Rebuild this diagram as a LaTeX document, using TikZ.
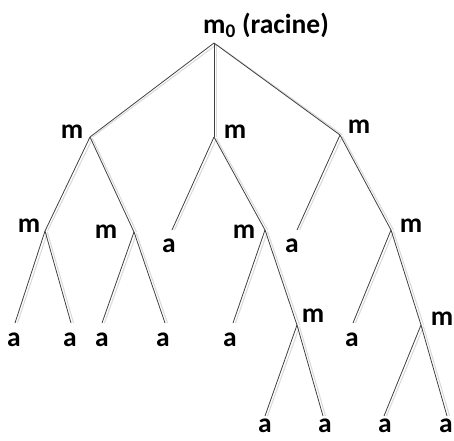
\documentclass[tikz,border=0pt]{standalone}
\usepackage{fontspec}
\setmainfont{Carlito}
\begin{document}
\begin{tikzpicture}[x=1pt,y=-1pt,
  lbl/.style={anchor=base,inner sep=0pt,font=\fontsize{27.5}{30}\selectfont\bfseries},
  edge/.style={draw=black!75,line width=0.8pt},
  shade/.style={draw=black!15,line width=1pt}]
\useasboundingbox (0,0) rectangle (454,440);
% junctions and leaf ends
\coordinate (R) at (214,43);
\coordinate (A) at (90,137);
\coordinate (B) at (214,137);
\coordinate (C) at (340,135);
\coordinate (AA) at (45,231);
\coordinate (AB) at (134,232);
\coordinate (Ba) at (172,230);
\coordinate (BB) at (265,230);
\coordinate (Ca) at (297,230);
\coordinate (CC) at (391,230);
\coordinate (AAa) at (15,323);
\coordinate (AAb) at (71,323);
\coordinate (ABa) at (102,323);
\coordinate (ABb) at (165,323);
\coordinate (BBa) at (233,323);
\coordinate (BBB) at (297,325);
\coordinate (CCa) at (353,323);
\coordinate (CCC) at (421,325);
\coordinate (BBBa) at (265,416);
\coordinate (BBBb) at (323,416);
\coordinate (CCCa) at (384,416);
\coordinate (CCCb) at (447,416);
% labels
\node[lbl] (lR) at (266,33) {m\textsubscript{0} (racine)};
\node[lbl] (lA) at (72,138) {m};
\node[lbl] (lB) at (235,138) {m};
\node[lbl] (lC) at (359,133) {m};
\node[lbl] (lAA) at (29,232) {m};
\node[lbl] (lAB) at (106,238) {m};
\node[lbl] (lBa) at (169,252) {a};
\node[lbl] (lBB) at (244,238) {m};
\node[lbl] (lCa) at (292,252) {a};
\node[lbl] (lCC) at (411,232) {m};
\node[lbl] (lAAa) at (14,346) {a};
\node[lbl] (lAAb) at (70,346) {a};
\node[lbl] (lABa) at (102,346) {a};
\node[lbl] (lABb) at (163,346) {a};
\node[lbl] (lBBa) at (230,346) {a};
\node[lbl] (lBBB) at (313,322) {m};
\node[lbl] (lCCa) at (352,346) {a};
\node[lbl] (lCCC) at (442,325) {m};
\node[lbl] (lBBBa) at (265,432) {a};
\node[lbl] (lBBBb) at (325,432) {a};
\node[lbl] (lCCCa) at (385,432) {a};
\node[lbl] (lCCCb) at (446,432) {a};
% edges: shadow then line
\foreach \p/\c in {R/A,R/B,R/C,A/AA,A/AB,B/Ba,B/BB,C/Ca,C/CC,AA/AAa,AA/AAb,AB/ABa,AB/ABb,BB/BBa,BB/BBB,CC/CCa,CC/CCC,BBB/BBBa,BBB/BBBb,CCC/CCCa,CCC/CCCb}{
  \draw[shade] ([xshift=2.5pt,yshift=-1.5pt]\p) -- ([xshift=2.5pt]\c);
}
\foreach \p/\c in {R/A,R/B,R/C,A/AA,A/AB,B/Ba,B/BB,C/Ca,C/CC,AA/AAa,AA/AAb,AB/ABa,AB/ABb,BB/BBa,BB/BBB,CC/CCa,CC/CCC,BBB/BBBa,BBB/BBBb,CCC/CCCa,CCC/CCCb}{
  \draw[edge] (\p) -- (\c);
}
\end{tikzpicture}
\end{document}
